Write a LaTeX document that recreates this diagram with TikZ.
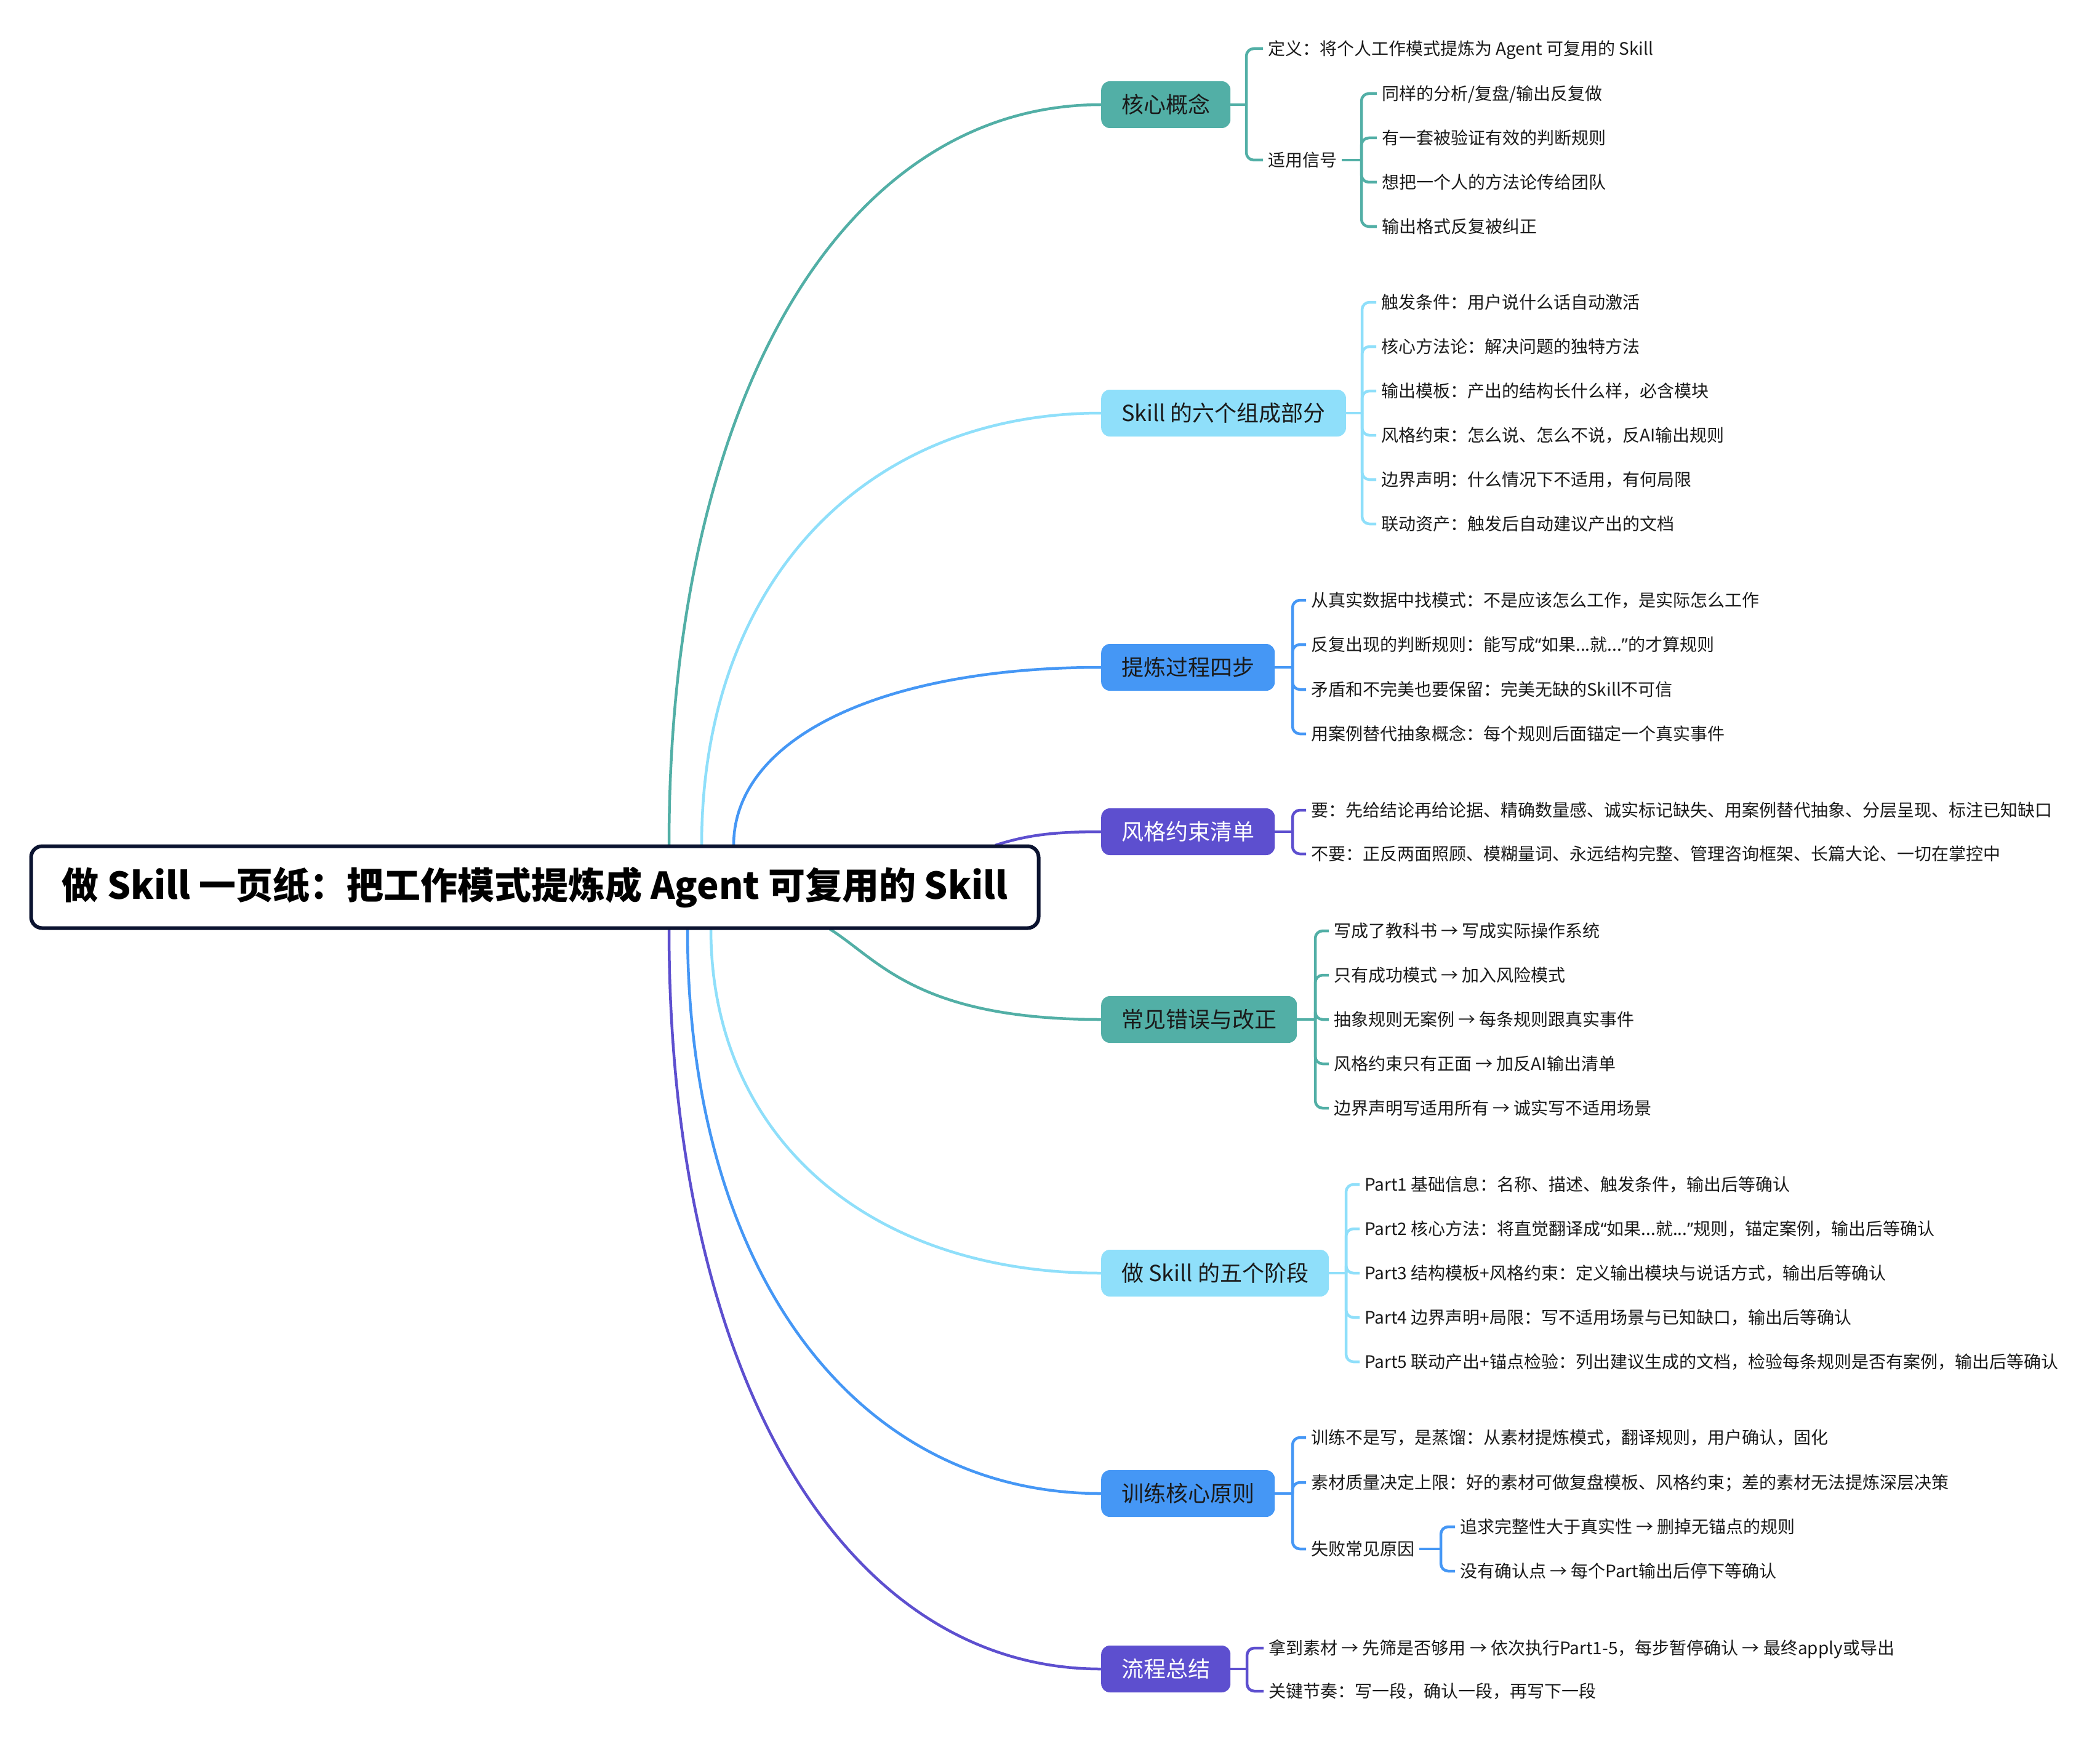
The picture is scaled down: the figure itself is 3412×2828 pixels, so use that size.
\documentclass[tikz,border=0pt]{standalone}
\usepackage{fontspec}
\setmainfont{Noto Sans CJK SC}
\newfontfamily\quotefont{Noto Sans}
\usetikzlibrary{calc,backgrounds}

\definecolor{cteal}{HTML}{52AFA6}
\definecolor{csky}{HTML}{8FDFFA}
\definecolor{cblue}{HTML}{4597F5}
\definecolor{cviolet}{HTML}{5D4FCF}
\definecolor{cnavy}{HTML}{0B1330}
\definecolor{cink}{HTML}{1A1A1A}

\tikzset{
  rootbox/.style={draw=cnavy,fill=white,line width=6,rounded corners=18,minimum width=1637,minimum height=133,font=\fontsize{60}{70}\selectfont\bfseries,text=black},
  branch/.style={anchor=west,rounded corners=14,minimum height=76,inner xsep=33,inner ysep=0,font=\fontsize{36}{42}\selectfont,text=cink,text height=29.5,text depth=2.5},
  leaf/.style={anchor=west,inner xsep=8,inner ysep=0,font=\fontsize{28}{34}\selectfont,text=cink,text height=23,text depth=2},
  limb/.style={line width=4.5},
  twig/.style={line width=4.5,rounded corners=12},
}
% curved limb from the root to a branch box
\newcommand{\limbto}[3]{\draw[limb,#1] (#2) .. controls ($(#2)!0.6!(#2 |- #3)$) and ($(#3)!0.6!(#2 |- #3)$) .. (#3);}
\newcommand{\oq}{{\quotefont “}}
\newcommand{\cq}{{\quotefont ”}}

\begin{document}
\begin{tikzpicture}[x=1pt,y=-1pt]
\useasboundingbox (0,0) rectangle (3412,2828);

\node[rootbox] (root) at (869,1441) {做 Skill 一页纸：把工作模式提炼成 Agent 可复用的 Skill};

% branches
\node[branch,fill=cteal] (k1) at (1789,170) {核心概念};
\node[branch,fill=csky] (k2) at (1789,671) {Skill 的六个组成部分};
\node[branch,fill=cblue] (k3) at (1789,1084) {提炼过程四步};
\node[branch,fill=cviolet,text=white] (k4) at (1789,1351) {风格约束清单};
\node[branch,fill=cteal] (k5) at (1789,1656) {常见错误与改正};
\node[branch,fill=csky] (k6) at (1789,2068) {做 Skill 的五个阶段};
\node[branch,fill=cblue] (k7) at (1789,2426) {训练核心原则};
\node[branch,fill=cviolet,text=white] (k8) at (1789,2711) {流程总结};

% leaves
\node[leaf] (k1a) at (2052,79) {定义：将个人工作模式提炼为 Agent 可复用的 Skill};
\node[leaf] (k1d) at (2052,260) {适用信号};
\node[leaf] (k1d1) at (2237,152) {同样的分析/复盘/输出反复做};
\node[leaf] (k1d2) at (2237,224) {有一套被验证有效的判断规则};
\node[leaf] (k1d3) at (2237,296) {想把一个人的方法论传给团队};
\node[leaf] (k1d4) at (2237,368) {输出格式反复被纠正};

\node[leaf] (k2a) at (2236,491) {触发条件：用户说什么话自动激活};
\node[leaf] (k2b) at (2236,563) {核心方法论：解决问题的独特方法};
\node[leaf] (k2c) at (2236,635) {输出模板：产出的结构长什么样，必含模块};
\node[leaf] (k2d) at (2236,707) {风格约束：怎么说、怎么不说，反AI输出规则};
\node[leaf] (k2e) at (2236,779) {边界声明：什么情况下不适用，有何局限};
\node[leaf] (k2f) at (2236,851) {联动资产：触发后自动建议产出的文档};

\node[leaf] (k3a) at (2122,975) {从真实数据中找模式：不是应该怎么工作，是实际怎么工作};
\node[leaf] (k3b) at (2122,1047) {反复出现的判断规则：能写成\oq 如果...就...\cq 的才算规则};
\node[leaf] (k3c) at (2122,1120) {矛盾和不完美也要保留：完美无缺的Skill不可信};
\node[leaf] (k3d) at (2122,1192) {用案例替代抽象概念：每个规则后面锚定一个真实事件};

\node[leaf] (k4a) at (2122,1316) {要：先给结论再给论据、精确数量感、诚实标记缺失、用案例替代抽象、分层呈现、标注已知缺口};
\node[leaf] (k4b) at (2122,1387) {不要：正反两面照顾、模糊量词、永远结构完整、管理咨询框架、长篇大论、一切在掌控中};

\node[leaf] (k5a) at (2159,1512) {写成了教科书 → 写成实际操作系统};
\node[leaf] (k5b) at (2159,1584) {只有成功模式 → 加入风险模式};
\node[leaf] (k5c) at (2159,1656) {抽象规则无案例 → 每条规则跟真实事件};
\node[leaf] (k5d) at (2159,1728) {风格约束只有正面 → 加反AI输出清单};
\node[leaf] (k5e) at (2159,1800) {边界声明写适用所有 → 诚实写不适用场景};

\node[leaf] (k6a) at (2209,1924) {Part1 基础信息：名称、描述、触发条件，输出后等确认};
\node[leaf] (k6b) at (2209,1996) {Part2 核心方法：将直觉翻译成\oq 如果...就...\cq 规则，锚定案例，输出后等确认};
\node[leaf] (k6c) at (2209,2068) {Part3 结构模板+风格约束：定义输出模块与说话方式，输出后等确认};
\node[leaf] (k6d) at (2209,2140) {Part4 边界声明+局限：写不适用场景与已知缺口，输出后等确认};
\node[leaf] (k6e) at (2209,2212) {Part5 联动产出+锚点检验：列出建议生成的文档，检验每条规则是否有案例，输出后等确认};

\node[leaf] (k7a) at (2122,2335) {训练不是写，是蒸馏：从素材提炼模式，翻译规则，用户确认，固化};
\node[leaf] (k7b) at (2122,2408) {素材质量决定上限：好的素材可做复盘模板、风格约束；差的素材无法提炼深层决策};
\node[leaf] (k7c) at (2122,2516) {失败常见原因};
\node[leaf] (k7c1) at (2364,2480) {追求完整性大于真实性 → 删掉无锚点的规则};
\node[leaf] (k7c2) at (2364,2552) {没有确认点 → 每个Part输出后停下等确认};

\node[leaf] (k8a) at (2053,2677) {拿到素材 → 先筛是否够用 → 依次执行Part1-5，每步暂停确认 → 最终apply或导出};
\node[leaf] (k8b) at (2053,2747) {关键节奏：写一段，确认一段，再写下一段};

% bracket junctions
\coordinate (k1j) at (2025,170);
\coordinate (k1dj) at (2212,260);
\coordinate (k2j) at (2213,671);
\coordinate (k3j) at (2100,1084);
\coordinate (k4j) at (2100,1351);
\coordinate (k5j) at (2137,1656);
\coordinate (k6j) at (2187,2068);
\coordinate (k7j) at (2100,2426);
\coordinate (k7cj) at (2341,2516);
\coordinate (k8j) at (2026,2711);

\draw[twig,cteal] (k1.east) -- (k1j);
\foreach \c in {k1a,k1d} \draw[twig,cteal] (k1j) |- (\c.west);
\draw[twig,cteal] (k1d.east) -- (k1dj);
\foreach \c in {k1d1,k1d2,k1d3,k1d4} \draw[twig,cteal] (k1dj) |- (\c.west);
\draw[twig,csky] (k2.east) -- (k2j);
\foreach \c in {k2a,k2b,k2c,k2d,k2e,k2f} \draw[twig,csky] (k2j) |- (\c.west);
\draw[twig,cblue] (k3.east) -- (k3j);
\foreach \c in {k3a,k3b,k3c,k3d} \draw[twig,cblue] (k3j) |- (\c.west);
\draw[twig,cviolet] (k4.east) -- (k4j);
\foreach \c in {k4a,k4b} \draw[twig,cviolet] (k4j) |- (\c.west);
\draw[twig,cteal] (k5.east) -- (k5j);
\foreach \c in {k5a,k5b,k5c,k5d,k5e} \draw[twig,cteal] (k5j) |- (\c.west);
\draw[twig,csky] (k6.east) -- (k6j);
\foreach \c in {k6a,k6b,k6c,k6d,k6e} \draw[twig,csky] (k6j) |- (\c.west);
\draw[twig,cblue] (k7.east) -- (k7j);
\foreach \c in {k7a,k7b,k7c} \draw[twig,cblue] (k7j) |- (\c.west);
\draw[twig,cblue] (k7c.east) -- (k7cj);
\foreach \c in {k7c1,k7c2} \draw[twig,cblue] (k7cj) |- (\c.west);
\draw[twig,cviolet] (k8.east) -- (k8j);
\foreach \c in {k8a,k8b} \draw[twig,cviolet] (k8j) |- (\c.west);

% limbs from the root
\coordinate (s1) at (1087,1373);
\coordinate (s2) at (1140,1373);
\coordinate (s3) at (1192,1373);
\coordinate (s4) at (1617,1373);
\coordinate (s5) at (1348,1509);
\coordinate (s6) at (1155,1509);
\coordinate (s7) at (1117,1509);
\coordinate (s8) at (1087,1509);
\begin{scope}[on background layer]
\limbto{cteal}{s1}{k1.west}
\limbto{csky}{s2}{k2.west}
\limbto{cblue}{s3}{k3.west}
\draw[limb,cviolet] (s4) .. controls +(50,-16) and +(-80,0) .. (k4.west);
\draw[limb,cteal] (s5) .. controls +(80,50) and +(-300,0) .. (k5.west);
\limbto{csky}{s6}{k6.west}
\limbto{cblue}{s7}{k7.west}
\limbto{cviolet}{s8}{k8.west}
\end{scope}
\end{tikzpicture}
\end{document}
